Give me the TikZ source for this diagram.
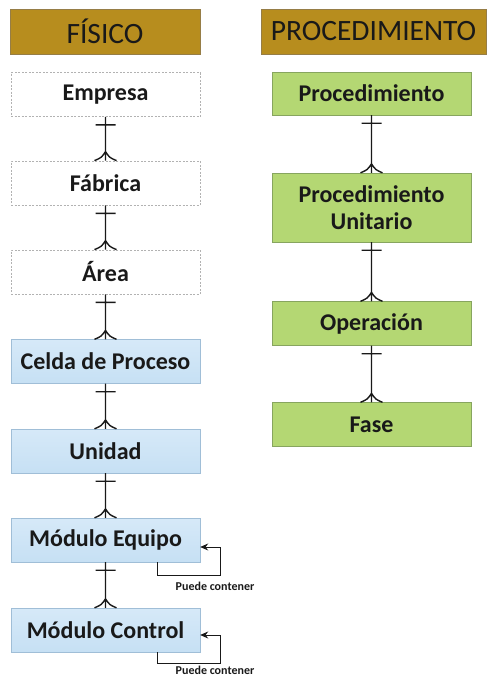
\documentclass[tikz,border=0pt]{standalone}
\usepackage{fontspec}
\setmainfont{Carlito}
\usetikzlibrary{arrows.meta, positioning, calc}

\definecolor{headgold}{RGB}{183,141,30}
\definecolor{headedge}{RGB}{150,125,70}
\definecolor{leafgreen}{RGB}{180,215,115}
\definecolor{leafedge}{RGB}{135,165,95}
\definecolor{paleblue}{RGB}{214,233,248}
\definecolor{midblue}{RGB}{198,224,244}
\definecolor{blueedge}{RGB}{160,190,215}
\definecolor{inkdark}{RGB}{25,25,25}

\begin{document}
\begin{tikzpicture}[
    x=1pt, y=-1pt,
    >=Stealth,
    % Column header style
    header/.style={rectangle, fill=headgold, draw=headedge, minimum height=45pt, inner sep=0pt, text=inkdark, font=\fontsize{29.5}{32}\selectfont},
    % Box styles
    unit/.style={rectangle, minimum height=44pt, inner sep=0pt, text=inkdark, align=center, font=\bfseries\fontsize{24}{27}\selectfont},
    plantbox/.style={unit, draw=gray!60, line width=0.8pt, dash pattern=on 2pt off 1.5pt, minimum width=189pt},
    cellbox/.style={unit, draw=blueedge, top color=paleblue, bottom color=midblue, minimum width=189pt},
    procbox/.style={unit, fill=leafgreen, draw=leafedge, minimum width=199pt},
    % One-to-many connector (bar on top, crow's foot below)
    crow/.style={inkdark, line width=1.4pt, to path={(\tikztostart) -- (\tikztotarget)
        ($(\tikztostart)+(-10,8)$) -- ($(\tikztostart)+(10,8)$)
        ($(\tikztotarget)+(0,-9)$) .. controls ($(\tikztotarget)+(-4,-3)$) .. ($(\tikztotarget)+(-11,0)$)
        ($(\tikztotarget)+(0,-9)$) .. controls ($(\tikztotarget)+(4,-3)$) .. ($(\tikztotarget)+(11,0)$)}},
    % Self containment loop
    selfloop/.style={-{Stealth[length=8pt, width=7pt]}, inkdark, line width=0.9pt},
    looplabel/.style={text=inkdark, font=\bfseries\fontsize{12}{14}\selectfont}
]

    \useasboundingbox (0,0) rectangle (489,678);

    % === HEADERS ===
    \node[header, minimum width=190pt] (fisico) at (105,31.5) {FÍSICO};
    \node[header, minimum width=225pt] (proced) at (373.5,31.5) {PROCEDIMIENTO};

    % === PHYSICAL MODEL ===
    \node[plantbox] (empresa) at (105.5,94.5) {Empresa};
    \node[plantbox] (fabrica) at (105.5,183) {Fábrica};
    \node[plantbox] (area) at (105.5,272) {Área};
    \node[cellbox] (celda) at (105.5,361.5) {Celda de Proceso};
    \node[cellbox] (unidad) at (105.5,451) {Unidad};
    \node[cellbox] (equipo) at (105.5,540) {Módulo Equipo};
    \node[cellbox] (control) at (105.5,630) {Módulo Control};

    \draw[crow] (empresa.south) to (fabrica.north);
    \draw[crow] (fabrica.south) to (area.north);
    \draw[crow] (area.south) to (celda.north);
    \draw[crow] (celda.south) to (unidad.north);
    \draw[crow] (unidad.south) to (equipo.north);
    \draw[crow] (equipo.south) to (control.north);

    % Modules may contain modules of the same kind
    \draw[selfloop] ($(equipo.south east)+(-43,0)$) -- ++(0,13) -| ($(equipo.east)+(20,7)$) -- ($(equipo.east)+(0,7)$);
    \node[looplabel] (equipolbl) at (215,586) {Puede contener};

    \draw[selfloop] ($(control.south east)+(-43,0)$) -- ++(0,11) -| ($(control.east)+(20,5)$) -- ($(control.east)+(0,5)$);
    \node[looplabel] (controllbl) at (215,670.5) {Puede contener};

    % === PROCEDURAL MODEL ===
    \node[procbox, minimum height=43pt] (proc) at (371.5,93.5) {Procedimiento};
    \node[procbox, minimum height=69pt] (unitario) at (371.5,207.5) {Procedimiento\\Unitario};
    \node[procbox] (operacion) at (371.5,323.5) {Operación};
    \node[procbox] (fase) at (371.5,424.5) {Fase};

    \draw[crow] (proc.south) to (unitario.north);
    \draw[crow] (unitario.south) to (operacion.north);
    \draw[crow] (operacion.south) to (fase.north);

\end{tikzpicture}
\end{document}
